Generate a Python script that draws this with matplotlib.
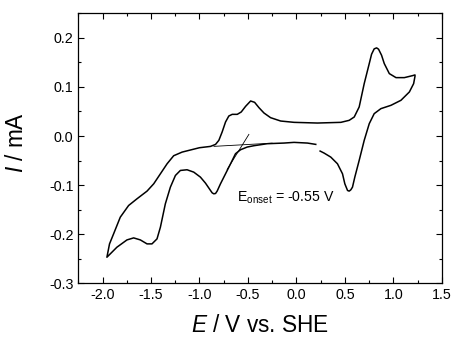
import numpy as np
import matplotlib
matplotlib.use("Agg")
import matplotlib.pyplot as plt
from matplotlib.ticker import MultipleLocator, FormatStrFormatter

plt.rcParams['font.family'] = ['Liberation Sans', 'DejaVu Sans']
plt.rcParams['mathtext.fontset'] = 'custom'
plt.rcParams['mathtext.rm'] = 'Liberation Sans'
plt.rcParams['mathtext.it'] = 'Liberation Sans:italic'
plt.rcParams['axes.unicode_minus'] = False

# CV scan: 0.2 V -> -1.96 V -> 1.23 V -> 0.25 V
potential = [
    0.200, 0.114, -0.024, -0.128, -0.300, -0.438, -0.507, -0.576, -0.628, -0.679,
    -0.731, -0.783, -0.817, -0.834, -0.852, -0.869, -0.886, -0.938, -0.990, -1.059,
    -1.128, -1.197, -1.248, -1.300, -1.352, -1.403, -1.438, -1.490, -1.541, -1.610,
    -1.679, -1.748, -1.852, -1.955,
    -1.928, -1.886, -1.817, -1.731, -1.645, -1.541, -1.472, -1.403, -1.334, -1.266,
    -1.179, -1.000, -0.886, -0.834, -0.800, -0.766, -0.731, -0.697, -0.662, -0.610,
    -0.569, -0.524, -0.472, -0.431, -0.386, -0.334, -0.266, -0.162, -0.024, 0.217,
    0.459, 0.545, 0.597, 0.648, 0.700, 0.752, 0.776, 0.803, 0.828, 0.848,
    0.879, 0.907, 0.959, 1.028, 1.114, 1.200, 1.224,
    1.224, 1.210, 1.166, 1.079, 0.976, 0.872, 0.803, 0.752, 0.700, 0.648,
    0.603, 0.579, 0.562, 0.545, 0.528, 0.500, 0.476, 0.424, 0.355, 0.286,
    0.245,
]
current = [
    -0.0170, -0.0143, -0.0129, -0.0143, -0.0156, -0.0197, -0.0224, -0.0279, -0.0360, -0.0565,
    -0.0769, -0.0973, -0.1120, -0.1170, -0.1177, -0.1157, -0.1109, -0.0959, -0.0837, -0.0735,
    -0.0687, -0.0701, -0.0803, -0.1041, -0.1381, -0.1857, -0.2095, -0.2197, -0.2197, -0.2116,
    -0.2075, -0.2116, -0.2265, -0.2469,
    -0.2197, -0.1993, -0.1653, -0.1415, -0.1279, -0.1122, -0.0973, -0.0769, -0.0565, -0.0401,
    -0.0327, -0.0238, -0.0211, -0.0170, -0.0088, 0.0082, 0.0286, 0.0408, 0.0442, 0.0442,
    0.0490, 0.0605, 0.0714, 0.0687, 0.0578, 0.0469, 0.0374, 0.0306, 0.0279, 0.0265,
    0.0279, 0.0320, 0.0388, 0.0592, 0.1068, 0.1476, 0.1667, 0.1776, 0.1796, 0.1769,
    0.1646, 0.1476, 0.1272, 0.1190, 0.1190, 0.1231, 0.1245,
    0.1218, 0.1068, 0.0898, 0.0728, 0.0626, 0.0558, 0.0456, 0.0252, -0.0088, -0.0497,
    -0.0837, -0.1041, -0.1095, -0.1122, -0.1109, -0.0973, -0.0769, -0.0565, -0.0429, -0.0347,
    -0.0306,
]

# onset construction lines
baseline_E = [-0.85, -0.25]
baseline_I = [-0.0210, -0.0145]
tangent_E = [-0.714, -0.490]
tangent_I = [-0.068, 0.0034]

fig = plt.figure(figsize=(4.54, 3.39), dpi=100)
ax = fig.add_axes([0.1725, 0.1643, 0.8005, 0.7964])

ax.plot(potential, current, color='black', lw=1.1)
ax.plot(baseline_E, baseline_I, color='black', lw=0.6)
ax.plot(tangent_E, tangent_I, color='black', lw=0.6)

ax.text(-0.61, -0.134, r'E$_{\mathrm{onset}}$ = -0.55 V', fontsize=10.2, va='baseline')

ax.set_xlim(-2.25, 1.5)
ax.set_ylim(-0.3, 0.25)
ax.set_xticks(np.arange(-2.0, 1.51, 0.5))
ax.set_yticks(np.arange(-0.3, 0.21, 0.1))
ax.xaxis.set_minor_locator(MultipleLocator(0.25))
ax.yaxis.set_minor_locator(MultipleLocator(0.05))
ax.tick_params(which='both', direction='in', top=True, right=True, labelsize=10.3, width=0.8)
ax.tick_params(which='major', length=4)
ax.tick_params(which='minor', length=2.5)
ax.xaxis.set_major_formatter(FormatStrFormatter('%.1f'))
ax.yaxis.set_major_formatter(FormatStrFormatter('%.1f'))
for s in ax.spines.values():
    s.set_linewidth(0.9)

ax.set_xlabel(r'$E$ / V vs. SHE', fontsize=16.3)
ax.set_ylabel(r'$I$ / mA', fontsize=16.3)
ax.xaxis.set_label_coords(0.5, -0.115)
ax.yaxis.set_label_coords(-0.1376, 0.523)

fig.savefig('out.png', dpi=100)
